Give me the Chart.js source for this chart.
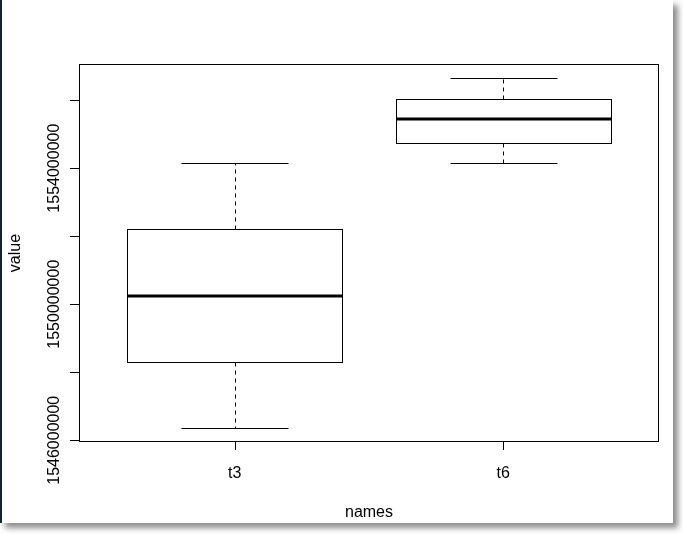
<!DOCTYPE html>
<html>
<head>
<meta charset="utf-8">
<script src="https://cdn.jsdelivr.net/npm/chart.js@4"></script>
<style>
  body { margin: 0; background: #fff; }
  #frame {
    position: absolute; left: 0; top: 0;
    width: 671px; height: 523px;
    border-left: 2px solid #10243a;
    background: #fff;
    box-shadow: 5px 5px 6px rgba(0, 0, 0, 0.45);
  }
  #chart { position: absolute; left: 0; top: 0; }
</style>
</head>
<body>
<div id="frame"></div>
<canvas id="chart" width="683" height="534"></canvas>
<script>
// boxplot stats
const names = ["t3", "t6"];
const whiskerLow = [1546360000, 1554150000];
const q1 = [1548300000, 1554740000];
const median = [1550240000, 1555440000];
const q3 = [1552210000, 1556030000];
const whiskerHigh = [1554150000, 1556650000];
const yTicks = [1546000000, 1548000000, 1550000000, 1552000000, 1554000000, 1556000000];
const yLabelled = [1546000000, 1550000000, 1554000000];

// R style axis limits: data range + 4% each side
const lo = Math.min(...whiskerLow), hi = Math.max(...whiskerHigh);
const pad = (hi - lo) * 0.04;

const font = '16px "Liberation Sans", Arial, sans-serif';
const px = v => Math.round(v) + 0.5;

const boxplot = {
  id: "boxplot",
  afterDraw(chart) {
    const ctx = chart.ctx;
    const x = chart.scales.x, y = chart.scales.y;
    const a = chart.chartArea;
    ctx.save();
    ctx.strokeStyle = "#000";
    ctx.fillStyle = "#000";
    ctx.lineWidth = 1;

    // plot frame
    ctx.strokeRect(px(a.left), px(a.top), Math.round(a.right - a.left) - 1, Math.round(a.bottom - a.top) - 1);

    // y axis
    ctx.beginPath();
    ctx.moveTo(px(a.left), px(y.getPixelForValue(yTicks[0])));
    ctx.lineTo(px(a.left), px(y.getPixelForValue(yTicks[yTicks.length - 1])));
    yTicks.forEach(t => {
      const yy = px(y.getPixelForValue(t));
      ctx.moveTo(a.left - 9, yy);
      ctx.lineTo(a.left, yy);
    });
    ctx.stroke();
    ctx.font = font;
    ctx.textAlign = "center";
    ctx.textBaseline = "alphabetic";
    yLabelled.forEach(t => {
      ctx.save();
      ctx.translate(a.left - 20, y.getPixelForValue(t));
      ctx.rotate(-Math.PI / 2);
      ctx.fillText(String(t), 0, 0);
      ctx.restore();
    });

    // x axis ticks and labels
    ctx.beginPath();
    names.forEach((n, i) => {
      const xx = px(x.getPixelForValue(i + 1));
      ctx.moveTo(xx, a.bottom);
      ctx.lineTo(xx, a.bottom + 8);
    });
    ctx.stroke();
    names.forEach((n, i) => {
      ctx.fillText(n, x.getPixelForValue(i + 1), a.bottom + 36);
    });

    // axis titles
    ctx.fillText("names", (a.left + a.right) / 2, a.bottom + 75);
    ctx.save();
    ctx.translate(20, (a.top + a.bottom) / 2);
    ctx.rotate(-Math.PI / 2);
    ctx.fillText("value", 0, 0);
    ctx.restore();

    // boxes
    names.forEach((n, i) => {
      const c = px(x.getPixelForValue(i + 1));
      const bl = px(x.getPixelForValue(i + 0.6));
      const br = px(x.getPixelForValue(i + 1.4));
      const sl = px(x.getPixelForValue(i + 0.8));
      const sr = px(x.getPixelForValue(i + 1.2));
      const yLo = px(y.getPixelForValue(whiskerLow[i]));
      const yQ1 = px(y.getPixelForValue(q1[i]));
      const yMed = y.getPixelForValue(median[i]);
      const yQ3 = px(y.getPixelForValue(q3[i]));
      const yHi = px(y.getPixelForValue(whiskerHigh[i]));

      // dashed whiskers
      ctx.setLineDash([4, 4]);
      ctx.beginPath();
      ctx.moveTo(c, yQ3);
      ctx.lineTo(c, yHi);
      ctx.moveTo(c, yQ1);
      ctx.lineTo(c, yLo);
      ctx.stroke();
      ctx.setLineDash([]);

      // staples
      ctx.beginPath();
      ctx.moveTo(sl, yHi);
      ctx.lineTo(sr, yHi);
      ctx.moveTo(sl, yLo);
      ctx.lineTo(sr, yLo);
      ctx.stroke();

      // box
      ctx.fillStyle = "#fff";
      ctx.fillRect(bl, yQ3, br - bl, yQ1 - yQ3);
      ctx.strokeRect(bl, yQ3, br - bl, yQ1 - yQ3);
      ctx.fillStyle = "#000";

      // median
      ctx.lineWidth = 3;
      ctx.beginPath();
      ctx.moveTo(bl, Math.round(yMed));
      ctx.lineTo(br, Math.round(yMed));
      ctx.stroke();
      ctx.lineWidth = 1;
    });
    ctx.restore();
  }
};

new Chart(document.getElementById("chart"), {
  type: "scatter",
  data: { datasets: [] },
  options: {
    responsive: false,
    animation: false,
    layout: { padding: { left: 79, top: 64, right: 24, bottom: 92 } },
    plugins: { legend: { display: false }, tooltip: { enabled: false } },
    scales: {
      x: { type: "linear", min: 0.42, max: 2.58, display: false },
      y: { type: "linear", min: lo - pad, max: hi + pad, display: false }
    }
  },
  plugins: [boxplot]
});
</script>
</body>
</html>
